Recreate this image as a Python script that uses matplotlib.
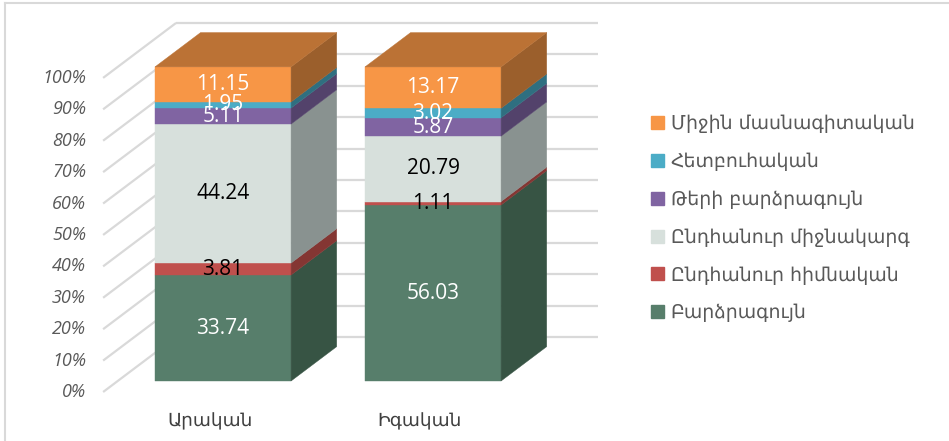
import numpy as np
import matplotlib
matplotlib.use("Agg")
import matplotlib.pyplot as plt
from matplotlib.patches import Polygon, Patch
from matplotlib.lines import Line2D

categories = ["Արական", "Իգական"]
series_names = ["Բարձրագույն", "Ընդհանուր հիմնական", "Ընդհանուր միջնակարգ",
                "Թերի բարձրագույն", "Հետբուհական", "Միջին մասնագիտական"]
male = [33.74, 3.81, 44.24, 5.11, 1.95, 11.15]
female = [56.03, 1.11, 20.79, 5.87, 3.02, 13.17]
values = [male, female]
yticks = list(range(0, 101, 10))
ytick_labels = [f"{t}%" for t in yticks]

front_colors = ["#577e6b", "#c0504d", "#d7e0dc", "#8064a2", "#4bacc6", "#f79646"]
side_colors = ["#375444", "#843633", "#899290", "#53426b", "#2f6f80", "#9b5f2c"]
top_color = "#bb7235"
label_colors = ["white", "black", "black", "white", "white", "white"]

# fake 3d geometry in data units (x: category, y: percent)
depth = np.array([0.3476, 17.5])      # floor front -> back wall
bar_depth = 0.625 * depth
front_t = -0.2                        # floor front relative to bar front
half_w = 0.324
wall_left = -0.571
wall_right = 1.786
grid_col = "#d9d9d9"

fig = plt.figure(figsize=(9.49, 4.41), dpi=100)
ax = fig.add_axes([0, 0, 1, 1])
ax.set_xlim(-1.062, 3.457)
ax.set_ylim(-19.1, 121.3)
ax.set_axis_off()

# border of the chart area
fig.add_artist(Line2D([5 / 949, 1], [1 - 3 / 441] * 2, transform=fig.transFigure,
                      color=grid_col, lw=1.5))
fig.add_artist(Line2D([5 / 949] * 2, [0, 1 - 3 / 441], transform=fig.transFigure,
                      color=grid_col, lw=1.5))

# gridlines on side wall and back wall
for t, lab in zip(yticks, ytick_labels):
    y0 = t + front_t * depth[1]
    y1 = y0 + depth[1]
    x1 = wall_left + depth[0]
    ax.plot([wall_left, x1], [y0, y1], color=grid_col, lw=1.6, zorder=1,
            solid_capstyle="butt")
    ax.plot([x1, wall_right], [y1, y1], color=grid_col, lw=1.6, zorder=1,
            solid_capstyle="butt")
    ax.text(wall_left - 0.081, y0, lab, ha="right", va="center", fontsize=13,
            style="italic", color="#595959", family=["Open Sans", "DejaVu Sans"])

dx, dy = bar_depth
for i, vals in enumerate(values):
    xl, xr = i - half_w, i + half_w
    bottom = 0.0
    for k, v in enumerate(vals):
        top = bottom + v
        ax.add_patch(Polygon([(xl, bottom), (xr, bottom), (xr, top), (xl, top)],
                             closed=True, fc=front_colors[k], ec=front_colors[k],
                             lw=0.3, zorder=3))
        ax.add_patch(Polygon([(xr, bottom), (xr + dx, bottom + dy), (xr + dx, top + dy),
                              (xr, top)], closed=True, fc=side_colors[k],
                             ec=side_colors[k], lw=0.3, zorder=3))
        if k == len(vals) - 1:
            ax.add_patch(Polygon([(xl, top), (xr, top), (xr + dx, top + dy),
                                  (xl + dx, top + dy)], closed=True, fc=top_color,
                                 ec=top_color, lw=0.3, zorder=3))
        ax.text(i, bottom + v / 2, f"{v:.2f}", ha="center", va="center",
                fontsize=15, color=label_colors[k], zorder=5,
                family=["Open Sans", "DejaVu Sans"])
        bottom = top
    ax.text(i - 0.064, -13, categories[i], ha="center", va="center", fontsize=13.3,
            color="#404040", family=["DejaVu Sans"])

handles = [Patch(fc=c, ec=c) for c in front_colors][::-1]
leg = fig.legend(handles, series_names[::-1], loc="upper left",
                 bbox_to_anchor=(651 / 949, 1 - 114 / 441), frameon=False,
                 fontsize=13.6, handlelength=0.69, handleheight=0.69,
                 handletextpad=0.35, labelspacing=1.0, borderpad=0,
                 borderaxespad=0)
for txt in leg.get_texts():
    txt.set_color("#595959")

fig.savefig("out.png", dpi=100, facecolor="white")
